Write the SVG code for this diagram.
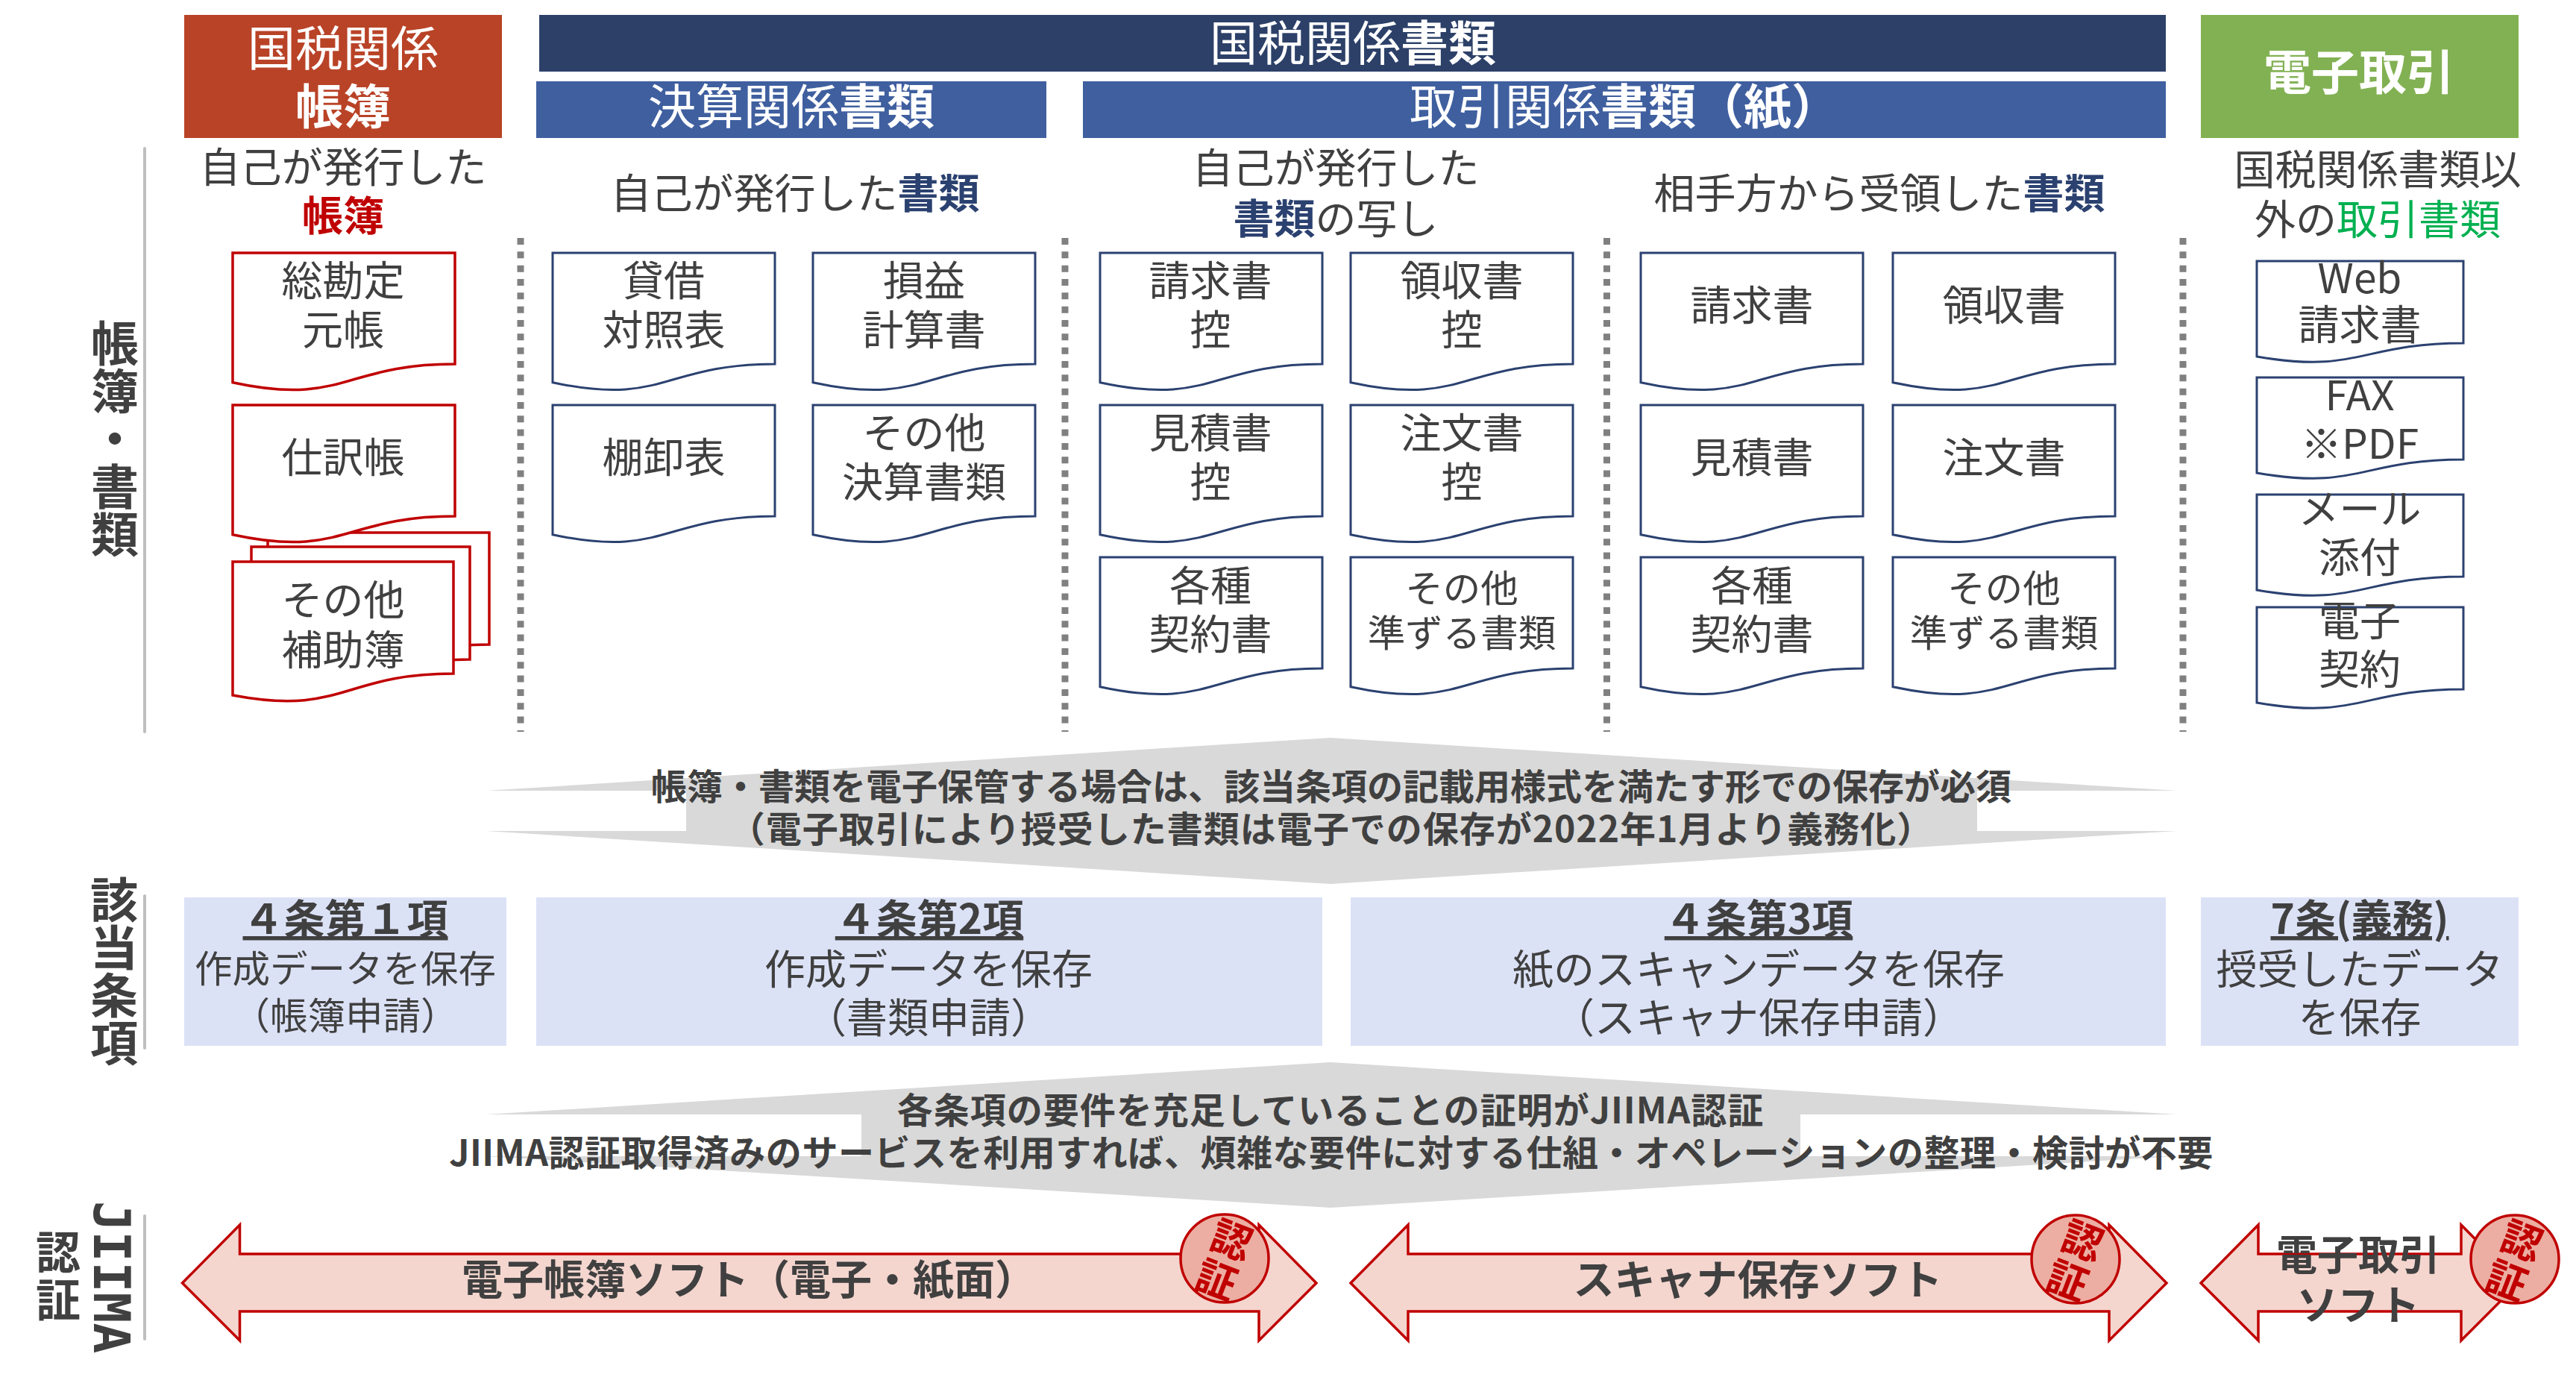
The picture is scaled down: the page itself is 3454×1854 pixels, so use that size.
<svg xmlns="http://www.w3.org/2000/svg" xmlns:xlink="http://www.w3.org/1999/xlink" width="3454" height="1854" viewBox="0 0 3454 1854">
<style>
text{font-family:"Noto Sans CJK JP","Noto Sans",sans-serif;fill:#404040;text-anchor:middle}
.b{font-weight:700}
.h{font-size:64px;fill:#fff}
.s54{font-size:55px}
.s50{font-size:50.5px}
.s48{font-size:48px;font-weight:700}
.t{font-size:55px;font-weight:700;text-decoration:underline}
.a{font-size:55px;font-weight:700}
.v{writing-mode:vertical-rl;font-weight:700;font-size:64px}
.rd{fill:#c00000;font-weight:700}
.nv{fill:#2b4170;font-weight:700}
.gn{fill:#00b050}
.dr{fill:#fff;stroke:#c00000;stroke-width:3.5}
.dn{fill:#fff;stroke:#2b4170;stroke-width:3}
.dot{stroke:#808080;stroke-width:9;stroke-dasharray:9 9.33;fill:none}
.gl{stroke:#bfbfbf;stroke-width:4;stroke-linecap:round;fill:none}
.lb{fill:#dce2f6}
.ga{fill:#d9d9d9}
.ar{fill:#f4d6cf;stroke:#c00000;stroke-width:3.5;stroke-linejoin:miter}
.se{fill:#ecaea2;stroke:#c00000;stroke-width:3.5}
.sl{writing-mode:vertical-rl;font-size:54px;font-weight:700;fill:#c00000}
</style>
<defs>
<path id="doc" d="M0 0H298V149C149 149 149 206 0 173.7Z"/>
<path id="rdoc" d="M0 0H277V110C138.5 110 138.5 151.7 0 128Z"/>
<g id="seal"><circle r="59" class="se"/><g transform="rotate(21)"><text class="sl" x="0" y="3" style="letter-spacing:3px">認証</text></g></g>
</defs>

<g id="hdr-books"><rect x="247" y="20" width="426" height="165" fill="#b94327"/><text class="h" x="460" y="88">国税関係</text><text class="h b" x="460" y="166">帳簿</text></g>
<g id="hdr-docs"><rect x="723" y="20" width="2181" height="76" fill="#2c4068"/><text class="h" x="1814" y="81">国税関係<tspan class="b">書類</tspan></text></g>
<g id="hdr-kessan"><rect x="719" y="109" width="684" height="76" fill="#3f5f9f"/><text class="h" x="1061" y="166">決算関係<tspan class="b">書類</tspan></text></g>
<g id="hdr-torihiki"><rect x="1452" y="109" width="1452" height="76" fill="#3f5f9f"/><text class="h" x="2178" y="166">取引関係<tspan class="b">書類（紙）</tspan></text></g>
<g id="hdr-denshi"><rect x="2951" y="20" width="426" height="165" fill="#82b153"/><text class="h b" x="3163" y="120">電子取引</text></g>

<g id="sub-headings">
<text class="s54" x="460" y="244">自己が発行した</text><text class="s54 rd" x="460" y="309">帳簿</text>
<text class="s54" x="1066" y="279">自己が発行した<tspan class="nv">書類</tspan></text>
<text class="s54" x="1791" y="245">自己が発行した</text><text class="s54" x="1791" y="313"><tspan class="nv">書類</tspan>の写し</text>
<text class="s54" x="2520" y="279">相手方から受領した<tspan class="nv">書類</tspan></text>
<text class="s54" x="3188" y="247">国税関係書類以</text><text class="s54" x="3188" y="314">外の<tspan class="gn">取引書類</tspan></text>
</g>

<g id="dividers">
<path class="gl" d="M194 199V981M194 1201V1405M194 1630V1795"/>
<path class="dot" d="M698 319V981M1428 319V981M2154.5 319V981M2927 319V981"/>
</g>

<g id="row-labels">
<text class="v" x="154" y="588">帳簿・書類</text>
<text class="v" x="153" y="1302">該当条項</text>
<text class="v" x="149" y="1712" style="font-family:'DejaVu Sans Mono',monospace;font-size:68px">JIIMA</text>
<text class="v" x="78" y="1712" style="font-size:60px;letter-spacing:4px">認証</text>
</g>

<g id="doc-sokanjo"><use href="#doc" x="312" y="339" class="dr"/><text class="s54" x="460" y="396">総勘定</text><text class="s54" x="460" y="462">元帳</text></g>
<g id="doc-hojo">
<path class="dr" d="M359 714H656V864C507 864 507 920 359 888Z"/>
<path class="dr" d="M337 733H630V884C484 884 484 940 337 907Z"/>
<path class="dr" d="M312 753H608V903C460 903 460 960 312 932Z"/>
<text class="s54" x="460" y="824">その他</text><text class="s54" x="460" y="891">補助簿</text></g>
<g id="doc-shiwake"><use href="#doc" x="312" y="543" class="dr"/><text class="s54" x="460" y="633">仕訳帳</text></g>

<g id="doc-taishaku"><use href="#doc" x="741" y="339" class="dn"/><text class="s54" x="890" y="396">貸借</text><text class="s54" x="890" y="462">対照表</text></g>
<g id="doc-soneki"><use href="#doc" x="1090" y="339" class="dn"/><text class="s54" x="1239" y="396">損益</text><text class="s54" x="1239" y="462">計算書</text></g>
<g id="doc-tanaoroshi"><use href="#doc" x="741" y="543" class="dn"/><text class="s54" x="890" y="633">棚卸表</text></g>
<g id="doc-kessan-other"><use href="#doc" x="1090" y="543" class="dn"/><text class="s54" x="1239" y="600">その他</text><text class="s54" x="1239" y="666">決算書類</text></g>

<g id="doc-c1"><use href="#doc" x="1475" y="339" class="dn"/><text class="s54" x="1623" y="396">請求書</text><text class="s54" x="1623" y="462">控</text></g>
<g id="doc-c2"><use href="#doc" x="1811" y="339" class="dn"/><text class="s54" x="1960" y="396">領収書</text><text class="s54" x="1960" y="462">控</text></g>
<g id="doc-c3"><use href="#doc" x="1475" y="543" class="dn"/><text class="s54" x="1623" y="600">見積書</text><text class="s54" x="1623" y="666">控</text></g>
<g id="doc-c4"><use href="#doc" x="1811" y="543" class="dn"/><text class="s54" x="1960" y="600">注文書</text><text class="s54" x="1960" y="666">控</text></g>
<g id="doc-c5"><use href="#doc" x="1475" y="747" class="dn"/><text class="s54" x="1623" y="805">各種</text><text class="s54" x="1623" y="870">契約書</text></g>
<g id="doc-c6"><use href="#doc" x="1811" y="747" class="dn"/><text class="s50" x="1960" y="807">その他</text><text class="s50" x="1960" y="867">準ずる書類</text></g>

<g id="doc-d1"><use href="#doc" x="2200" y="339" class="dn"/><text class="s54" x="2349" y="429">請求書</text></g>
<g id="doc-d2"><use href="#doc" x="2538" y="339" class="dn"/><text class="s54" x="2687" y="429">領収書</text></g>
<g id="doc-d3"><use href="#doc" x="2200" y="543" class="dn"/><text class="s54" x="2349" y="633">見積書</text></g>
<g id="doc-d4"><use href="#doc" x="2538" y="543" class="dn"/><text class="s54" x="2687" y="633">注文書</text></g>
<g id="doc-d5"><use href="#doc" x="2200" y="747" class="dn"/><text class="s54" x="2349" y="805">各種</text><text class="s54" x="2349" y="870">契約書</text></g>
<g id="doc-d6"><use href="#doc" x="2538" y="747" class="dn"/><text class="s50" x="2687" y="807">その他</text><text class="s50" x="2687" y="867">準ずる書類</text></g>

<g id="doc-web"><use href="#rdoc" x="3026" y="350" class="dn"/><text class="s54" x="3164" y="393">Web</text><text class="s54" x="3164" y="455">請求書</text></g>
<g id="doc-fax"><use href="#rdoc" x="3026" y="506" class="dn"/><text class="s54" x="3164" y="550">FAX</text><text class="s54" x="3164" y="615">※PDF</text></g>
<g id="doc-mail"><use href="#rdoc" x="3026" y="663" class="dn"/><text class="s54" x="3164" y="702">メール</text><text class="s54" x="3164" y="767">添付</text></g>
<g id="doc-contract"><use href="#rdoc" x="3026" y="814" class="dn"/><text class="s54" x="3164" y="852">電子</text><text class="s54" x="3164" y="917">契約</text></g>

<g id="band-1"><polygon class="ga" points="1784,989 2919,1060 2651,1060 2651,1114 2919,1114 1784,1185 652,1114 920,1114 920,1060 652,1060"/>
<text class="s48" x="1785" y="1072">帳簿・書類を電子保管する場合は、該当条項の記載用様式を満たす形での保存が必須</text>
<text class="s48" x="1785" y="1129" style="letter-spacing:1px">（電子取引により授受した書類は電子での保存が2022年1月より義務化）</text></g>

<g id="clause-1"><rect class="lb" x="247" y="1203" width="432" height="199"/><text class="t" x="463" y="1252">４条第１項</text><text class="s50" x="463" y="1317">作成データを保存</text><text class="s50" x="463" y="1380">（帳簿申請）</text></g>
<g id="clause-2"><rect class="lb" x="719" y="1203" width="1054" height="199"/><text class="t" x="1246" y="1252">４条第2項</text><text class="s54" x="1245" y="1319">作成データを保存</text><text class="s54" x="1245" y="1384">（書類申請）</text></g>
<g id="clause-3"><rect class="lb" x="1811" y="1203" width="1093" height="199"/><text class="t" x="2358" y="1252">４条第3項</text><text class="s54" x="2358" y="1319">紙のスキャンデータを保存</text><text class="s54" x="2358" y="1384">（スキャナ保存申請）</text></g>
<g id="clause-4"><rect class="lb" x="2951" y="1203" width="426" height="199"/><text class="t" x="3164" y="1252">7条(義務)</text><text class="s54" x="3164" y="1319">授受したデータ</text><text class="s54" x="3164" y="1384">を保存</text></g>

<g id="band-2"><polygon class="ga" points="1784,1424 2919,1494 2414,1494 2414,1550 2919,1550 1784,1619 652,1550 1155,1550 1155,1494 652,1494"/>
<text class="s48" x="1784" y="1506" style="letter-spacing:1px">各条項の要件を充足していることの証明がJIIMA認証</text>
<text class="s48" x="1785" y="1563" style="letter-spacing:.55px">JIIMA認証取得済みのサービスを利用すれば、煩雑な要件に対する仕組・オペレーションの整理・検討が不要</text></g>

<g id="arrow-1"><polygon class="ar" points="244.5,1720 321.5,1642 321.5,1681 1688,1681 1688,1642 1765,1720 1688,1797 1688,1758 321.5,1758 321.5,1797"/><text class="a" x="1004" y="1735">電子帳簿ソフト（電子・紙面）</text></g>
<g id="arrow-2"><polygon class="ar" points="1811,1720 1888,1642 1888,1681 2828,1681 2828,1642 2905,1720 2828,1797 2828,1758 1888,1758 1888,1797"/><text class="a" x="2357" y="1735">スキャナ保存ソフト</text></g>
<g id="arrow-3"><polygon class="ar" points="2951,1720 3028,1642 3028,1681 3300,1681 3300,1642 3377,1720 3300,1797 3300,1758 3028,1758 3028,1797"/><text class="s54 b" x="3162" y="1702">電子取引</text><text class="s54 b" x="3162" y="1769">ソフト</text></g>

<g id="seal-1" transform="translate(1642 1687)"><use href="#seal"/></g>
<g id="seal-2" transform="translate(2783 1688)"><use href="#seal"/></g>
<g id="seal-3" transform="translate(3372 1688)"><use href="#seal"/></g>
</svg>
